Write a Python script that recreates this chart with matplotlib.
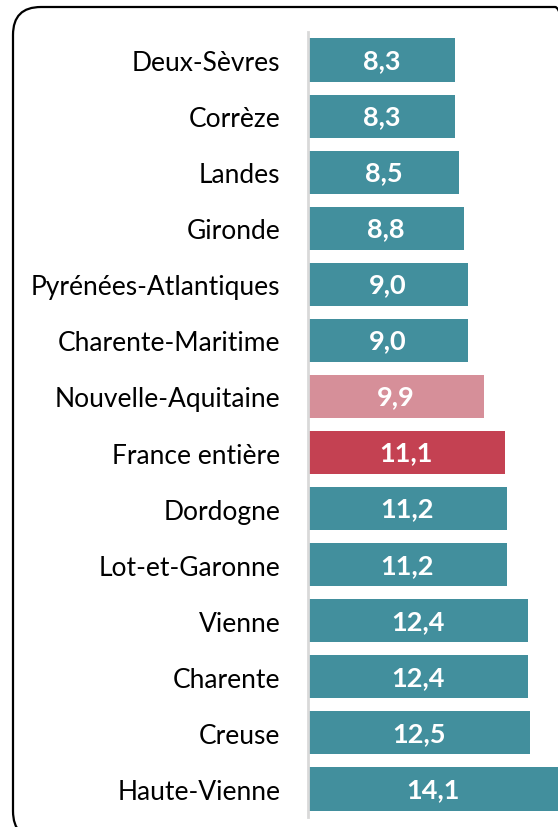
import matplotlib
matplotlib.use("Agg")
import matplotlib.pyplot as plt
from matplotlib.patches import FancyBboxPatch

# data, top to bottom
departements = ["Deux-Sèvres", "Corrèze", "Landes", "Gironde", "Pyrénées-Atlantiques",
                "Charente-Maritime", "Nouvelle-Aquitaine", "France entière", "Dordogne",
                "Lot-et-Garonne", "Vienne", "Charente", "Creuse", "Haute-Vienne"]
valeurs = [8.3, 8.3, 8.5, 8.8, 9.0, 9.0, 9.9, 11.1, 11.2, 11.2, 12.4, 12.4, 12.5, 14.1]

TEAL = "#428F9D"
PINK = "#D68F99"
RED = "#C44152"
couleurs = []
for d in departements:
    if d == "Nouvelle-Aquitaine":
        couleurs.append(PINK)
    elif d == "France entière":
        couleurs.append(RED)
    else:
        couleurs.append(TEAL)

plt.rcParams['font.family'] = ['Lato', 'DejaVu Sans']

fig = plt.figure(figsize=(5.58, 8.28), dpi=100)
W, H = 558, 828

# rounded frame around the chart
box = FancyBboxPatch((13 / W, 1 - 840 / H), 570 / W, 832 / H,
                     boxstyle="round,pad=0,rounding_size=0.05",
                     transform=fig.transFigure, fill=False,
                     edgecolor="black", linewidth=1.6, mutation_aspect=W / H)
fig.patches.append(box)

ax = fig.add_axes([308 / W, 1 - 818 / H, 1 - 308 / W, (818 - 33) / H])
y = list(range(len(departements)))
bars = ax.barh(y, valeurs, height=0.77, color=couleurs)

for yi, v in zip(y, valeurs):
    ax.text(v / 2, yi, f"{v:.1f}".replace(".", ","), ha="center", va="center",
            color="white", fontsize=19.5, fontweight="bold")

ax.set_yticks(y)
ax.set_yticklabels(departements, fontsize=19)
ax.tick_params(axis="y", length=0, pad=20)
ax.set_xticks([])
ax.set_xlim(0, 14.1)
ax.set_ylim(len(departements) - 0.5, -0.5)
for s in ["top", "right", "bottom"]:
    ax.spines[s].set_visible(False)
ax.spines["left"].set_color("#D9D9D9")
ax.spines["left"].set_linewidth(2)
ax.patch.set_alpha(0)

fig.savefig("out.png", dpi=100)
